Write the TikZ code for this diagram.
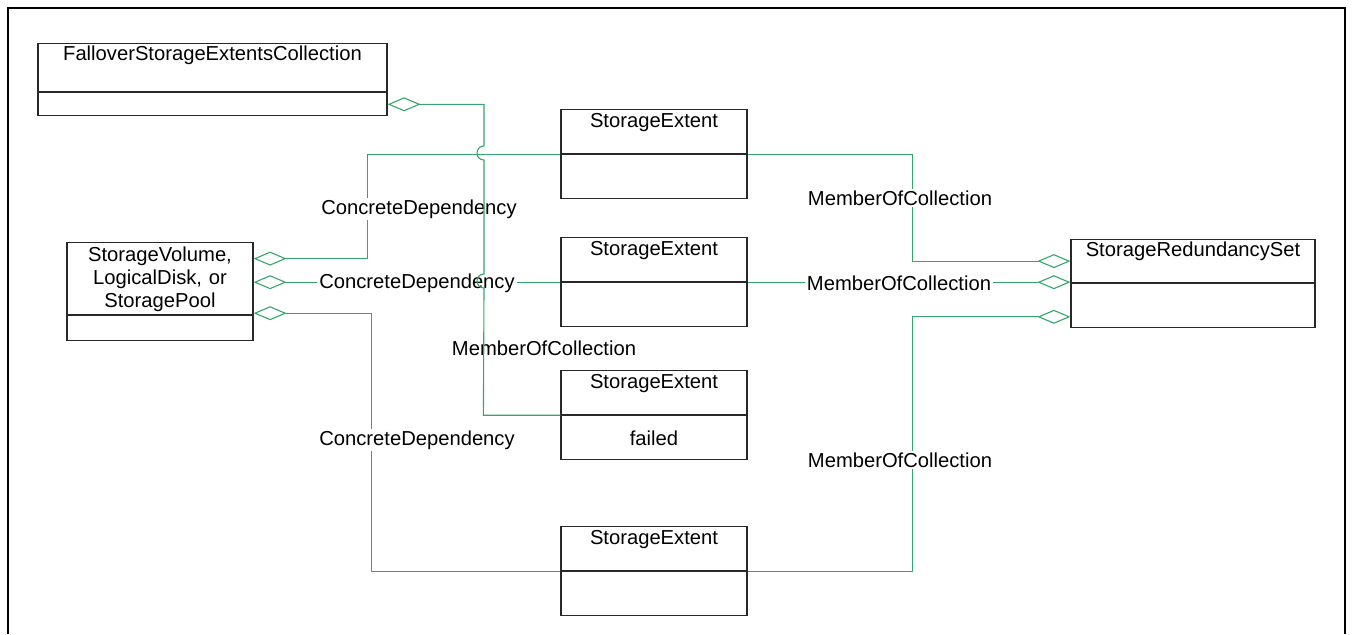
\documentclass[tikz,border=0pt]{standalone}
\usepackage{fontspec}
\setmainfont{Liberation Sans}
\usetikzlibrary{arrows.meta}
\definecolor{assoc}{RGB}{52,166,108}
\definecolor{boxline}{RGB}{40,40,40}
\begin{document}
\begin{tikzpicture}[
  x=0.5pt, y=-0.5pt,
  font=\fontsize{10.1}{11.5}\selectfont,
  clsttl/.style={draw=boxline, line width=0.6pt, anchor=north,
                 inner xsep=0pt, inner ysep=0pt, align=center},
  clsbody/.style={draw=boxline, line width=0.6pt, anchor=north, inner sep=0pt},
  lbl/.style={fill=white, inner sep=1pt},
  agg/.style={draw=assoc, line width=0.55pt,
              -{Diamond[open, length=16.5pt, width=7pt]}},
  frame/.style={draw=black, line width=1pt}
]
\useasboundingbox (0,0) rectangle (1353,634);
\draw[frame] (8,634) -- (8,8) -- (1345,8) -- (1345,634);
% classes
\node[clsttl, text width=174.5pt, text height=8.5pt, text depth=15.5pt]
  (fall) at (212.5,43) {FalloverStorageExtentsCollection};
\node[clsbody, minimum width=174.5pt, minimum height=11.5pt] (fall-b) at (fall.south) {};
\foreach \nm/\yy/\att in {se1/109/{}, se2/237/{}, se3/370/failed, se4/526/{}} {
  \node[clsttl, text width=93pt, text height=9pt, text depth=13pt]
    (\nm) at (654,\yy) {StorageExtent};
  \node[clsbody, minimum width=93pt, minimum height=22pt] (\nm-b) at (\nm.south) {\att};
}
\node[clsttl, text width=93pt, text height=9.5pt, text depth=26.5pt]
  (sv) at (160,242) {StorageVolume,\\LogicalDisk, or\\StoragePool};
\node[clsbody, minimum width=93pt, minimum height=12.5pt] (sv-b) at (sv.south) {};
\node[clsttl, text width=122pt, text height=8.5pt, text depth=13pt]
  (srs) at (1193,239) {StorageRedundancySet};
\node[clsbody, minimum width=122pt, minimum height=22pt] (srs-b) at (srs.south) {};
% ConcreteDependency
\draw[agg] (se1.south west) -- ++(-193,0) |- ([yshift=10pt]sv.east);
\draw[agg] (se2.south west) -- (se2.south west -| sv.east);
\draw[agg] (se4.south west) -- ++(-189,0) |- ([yshift=1pt]sv.south east);
% MemberOfCollection
\draw[agg] (se1.south east) -- ++(165,0) |- (srs.west);
\draw[agg] (se2.south east) -- (se2.south east -| srs.west);
\draw[agg] (se4.south east) -- ++(165,0) |- ([yshift=-5.5pt]srs-b.west);
% labels
\node[lbl] (cdA) at (419,209) {ConcreteDependency};
\node[lbl] (cdB) at (417,283) {ConcreteDependency};
\node[lbl] (cdC) at (417,440) {ConcreteDependency};
\node[lbl] (mocA) at (900,198) {MemberOfCollection};
\node[lbl] (mocB) at (899,283) {MemberOfCollection};
\node[lbl] (mocC) at (900,460) {MemberOfCollection};
\node[lbl] (mocF) at (544,348) {MemberOfCollection};
% failover collection, hops over the crossings
\draw[agg] (se3.south west) -- ++(-77,0) -- (484,288)
  .. controls (474.7,288) and (474.7,274) .. (484,274) -- (484,160)
  .. controls (474.7,160) and (474.7,146) .. (484,146) |- (fall-b.east);
\end{tikzpicture}
\end{document}
